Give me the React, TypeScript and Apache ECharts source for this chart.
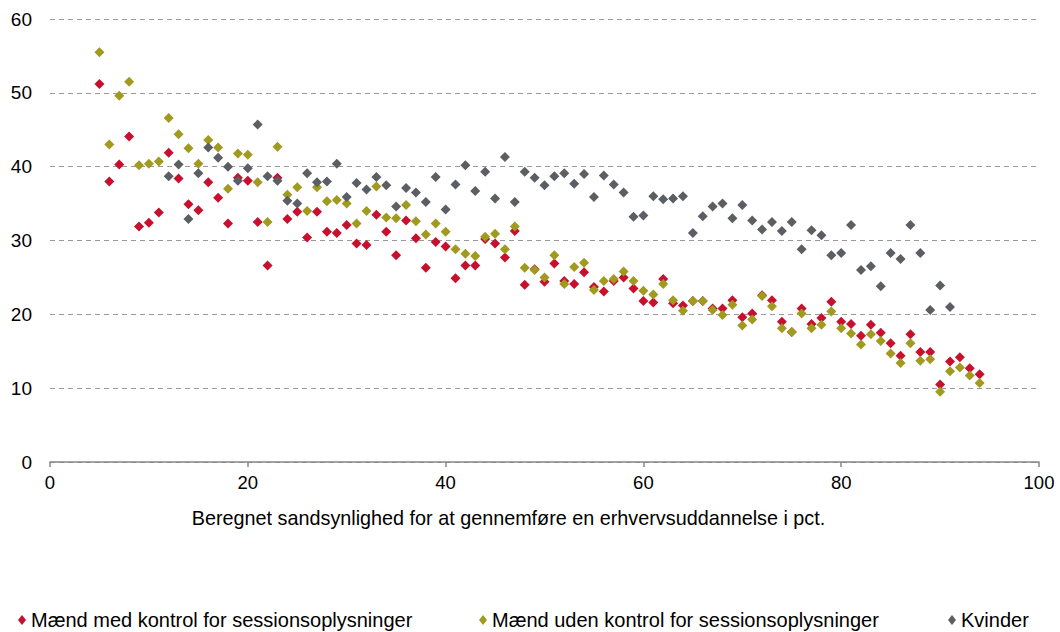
import React, { useEffect, useRef } from "react";
import * as echarts from "echarts";

const seriesNames = [
  "Mænd med kontrol for sessionsoplysninger",
  "Mænd uden kontrol for sessionsoplysninger",
  "Kvinder",
];

const xTickLabels = ["0", "20", "40", "60", "80", "100"];
const yTickLabels = ["0", "10", "20", "30", "40", "50", "60"];
const xAxisTitle = "Beregnet sandsynlighed for at gennemføre en erhvervsuddannelse i pct.";

// x = 5..94
const menStart = 5;
const menWithControl = [
  51.2, 38.0, 40.3, 44.1, 31.9, 32.4, 33.8, 41.9, 38.4, 34.9,
  34.1, 37.9, 35.8, 32.3, 38.5, 38.1, 32.5, 26.6, 38.5, 32.9,
  33.9, 30.4, 33.9, 31.2, 31.0, 32.1, 29.6, 29.4, 33.5, 31.2,
  28.0, 32.7, 30.3, 26.3, 29.8, 29.2, 24.9, 26.6, 26.6, 30.2,
  29.6, 27.7, 31.3, 24.0, 26.1, 24.4, 26.9, 24.5, 24.1, 25.7,
  23.7, 23.1, 24.5, 25.0, 23.5, 21.8, 21.6, 24.8, 21.5, 21.2,
  21.8, 21.8, 20.8, 20.8, 21.9, 19.6, 20.1, 22.6, 21.9, 19.0,
  17.6, 20.8, 18.7, 19.5, 21.7, 19.0, 18.7, 17.1, 18.6, 17.5,
  16.1, 14.4, 17.3, 14.9, 14.9, 10.5, 13.6, 14.2, 12.7, 11.9,
];
const menWithoutControl = [
  55.5, 43.0, 49.6, 51.5, 40.2, 40.4, 40.7, 46.6, 44.4, 42.5,
  40.4, 43.6, 42.6, 37.0, 41.8, 41.6, 37.9, 32.5, 42.7, 36.2,
  37.2, 34.0, 37.2, 35.3, 35.5, 35.0, 32.3, 34.0, 37.3, 33.1,
  33.0, 34.8, 32.6, 30.8, 32.3, 31.2, 28.8, 28.2, 27.9, 30.5,
  30.9, 28.8, 31.9, 26.3, 26.0, 25.0, 28.0, 24.1, 26.4, 27.0,
  23.3, 24.5, 24.8, 25.8, 24.5, 23.2, 22.7, 24.1, 21.9, 20.5,
  21.8, 21.8, 20.6, 19.9, 21.3, 18.5, 19.3, 22.5, 21.1, 18.1,
  17.6, 20.1, 18.1, 18.6, 20.4, 18.1, 17.4, 15.9, 17.3, 16.4,
  14.7, 13.4, 16.1, 13.7, 13.9, 9.5, 12.3, 12.8, 11.7, 10.7,
];
// x = 12..91
const womenStart = 12;
const women = [
  38.7, 40.3, 32.9, 39.1, 42.6, 41.2, 40.0, 38.1, 39.8, 45.7,
  38.7, 38.1, 35.4, 35.0, 39.1, 37.9, 38.0, 40.4, 35.9, 37.8,
  36.9, 38.6, 37.5, 34.6, 37.1, 36.5, 35.2, 38.6, 34.2, 37.6,
  40.2, 36.7, 39.3, 35.7, 41.3, 35.2, 39.3, 38.5, 37.5, 38.7,
  39.1, 37.7, 39.0, 35.9, 38.8, 37.6, 36.5, 33.2, 33.4, 36.0,
  35.6, 35.7, 36.0, 31.0, 33.3, 34.6, 35.0, 33.0, 34.8, 32.7,
  31.5, 32.5, 31.3, 32.5, 28.8, 31.4, 30.7, 28.0, 28.3, 32.1,
  26.0, 26.5, 23.8, 28.3, 27.5, 32.1, 28.3, 20.6, 23.9, 21.0,
];

const colors = ["#C8102E", "#A09A1F", "#5B5F64"];
const FONT = "Liberation Sans, Arial, sans-serif";

const toPoints = (start: number, vals: number[]) => vals.map((v, i) => [start + i, v]);

export default function App() {
  const ref = useRef<HTMLDivElement>(null);
  useEffect(() => {
    if (!ref.current) return;
    const chart = echarts.init(ref.current, undefined, { renderer: "svg" });
    const legendBase = {
      orient: "horizontal" as const,
      top: 605,
      itemWidth: 8,
      itemHeight: 10,
      icon: "diamond",
      textStyle: { fontFamily: FONT, fontSize: 20, color: "#000" },
      selectedMode: false,
    };
    const mkSeries = (i: number, start: number, vals: number[]) => ({
      name: seriesNames[i],
      type: "scatter",
      symbol: "diamond",
      symbolSize: 10,
      data: toPoints(start, vals),
      itemStyle: { color: colors[i], opacity: 1 },
      emphasis: { disabled: true },
    });
    chart.setOption({
      animation: false,
      color: colors,
      textStyle: { fontFamily: FONT },
      grid: { left: 50, right: 21, top: 19, bottom: 170, containLabel: false },
      xAxis: {
        type: "value",
        min: 0,
        max: 100,
        interval: 20,
        axisLine: { show: true, lineStyle: { color: "#878787", width: 1.5 } },
        axisTick: { show: true, length: 5, lineStyle: { color: "#878787", width: 1.5 } },
        splitLine: { show: false },
        axisLabel: {
          margin: 11,
          fontSize: 18.5,
          color: "#000",
          fontFamily: FONT,
          formatter: (v: number) => xTickLabels[Math.round(v / 20)] ?? String(v),
        },
      },
      yAxis: {
        type: "value",
        min: 0,
        max: 60,
        interval: 10,
        axisLine: { show: false },
        axisTick: { show: false },
        splitLine: { show: true, lineStyle: { color: "#9A9A9A", type: [5, 4], width: 1.2 } },
        axisLabel: {
          margin: 18,
          fontSize: 19,
          color: "#000",
          fontFamily: FONT,
          formatter: (v: number) => yTickLabels[Math.round(v / 10)] ?? String(v),
        },
      },
      legend: [
        { ...legendBase, left: 13, data: [seriesNames[0]] },
        { ...legendBase, left: 474, data: [seriesNames[1]] },
        { ...legendBase, left: 943, data: [seriesNames[2]] },
      ],
      graphic: [
        {
          type: "text",
          x: 508.5,
          y: 518,
          style: {
            text: xAxisTitle,
            fontFamily: FONT,
            fontSize: 19.8,
            fill: "#000",
            textAlign: "center",
            textVerticalAlign: "middle",
          },
        },
      ],
      series: [
        mkSeries(0, menStart, menWithControl),
        mkSeries(1, menStart, menWithoutControl),
        mkSeries(2, womenStart, women),
      ],
    });
    return () => chart.dispose();
  }, []);
  return (
    <div
      ref={ref}
      style={{ position: "fixed", left: 0, top: 0, width: 1060, height: 632, background: "#fff" }}
    />
  );
}
